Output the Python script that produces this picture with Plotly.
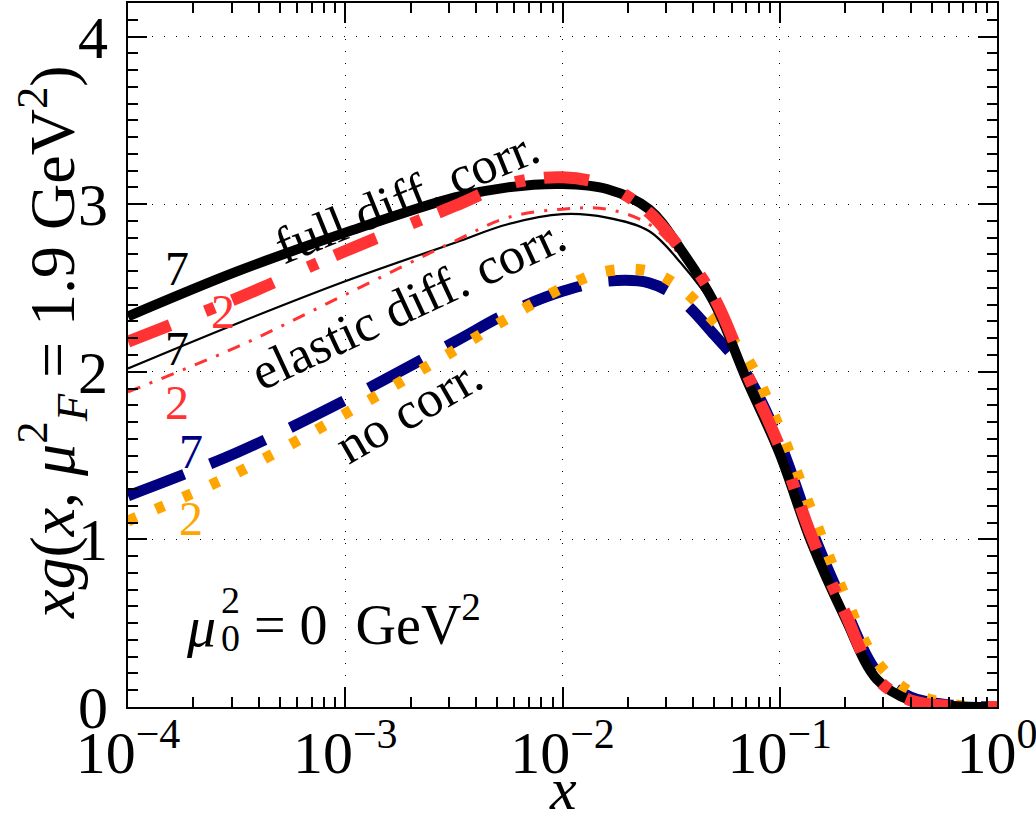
import plotly.graph_objects as go

# ---------------- data ----------------
x = [1e-4, 3.2e-4, 1e-3, 3.2e-3, 5.6e-3, 1e-2, 1.6e-2, 2.5e-2, 3.5e-2,
     5e-2, 7e-2, 0.1, 0.14, 0.2, 0.28, 0.4, 0.63, 1.0]

full_7 = [2.33, 2.60, 2.83, 3.04, 3.10, 3.12, 3.09, 2.97, 2.73,
          2.41, 1.96, 1.51, 0.98, 0.53, 0.165, 0.04, 0.006, 0.0]
full_2 = [2.18, 2.44, 2.72, 2.99, 3.12, 3.16, 3.11, 2.95, 2.73,
          2.44, 2.00, 1.55, 1.02, 0.56, 0.17, 0.04, 0.006, 0.0]
elastic_7 = [2.02, 2.29, 2.54, 2.77, 2.88, 2.94, 2.92, 2.84, 2.65,
             2.38, 1.95, 1.50, 0.98, 0.53, 0.165, 0.04, 0.006, 0.0]
elastic_2 = [1.88, 2.15, 2.46, 2.78, 2.92, 2.97, 2.97, 2.88, 2.69,
             2.42, 1.99, 1.53, 1.01, 0.55, 0.17, 0.04, 0.006, 0.0]
nocorr_7 = [1.26, 1.52, 1.83, 2.18, 2.35, 2.48, 2.54, 2.53, 2.43,
            2.22, 1.99, 1.58, 1.06, 0.59, 0.21, 0.06, 0.01, 0.0]
nocorr_2 = [1.11, 1.40, 1.75, 2.13, 2.32, 2.50, 2.60, 2.60, 2.50,
            2.30, 2.09, 1.66, 1.17, 0.66, 0.27, 0.09, 0.015, 0.0]

x_decades = [1e-4, 1e-3, 1e-2, 1e-1, 1e0]
x_ticktext = ["10<sup>−4</sup>", "10<sup>−3</sup>", "10<sup>−2</sup>",
              "10<sup>−1</sup>", "10<sup>0</sup>"]
minor_digits = [2, 3, 4, 5, 6, 7, 8, 9]
y_ticks = [0, 1, 2, 3, 4]

# ---------------- styles ----------------
FONT = "Liberation Serif"
BLACK = "#000000"
RED = "#ff3333"
BLUE = "#000080"
ORANGE = "#ffa500"

fig = go.Figure()


def add(y, color, width, dash):
    fig.add_trace(go.Scatter(
        x=x, y=y, mode="lines",
        line=dict(color=color, width=width, dash=dash, shape="spline", smoothing=1.0),
        showlegend=False, hoverinfo="skip"))


add(nocorr_7, BLUE, 11, "60px,28px")
add(nocorr_2, ORANGE, 11, "9px,21px")
add(elastic_7, BLACK, 2.2, "solid")
add(elastic_2, RED, 3, "13px,10px,3px,10px")
add(full_7, BLACK, 10, "solid")
add(full_2, RED, 12, "45px,38px,10px,19px")

minor_x = [d * m for d in x_decades[:-1] for m in minor_digits]

fig.update_xaxes(
    type="log", range=[-4, 0], automargin=False,
    tickmode="array", tickvals=x_decades, ticktext=x_ticktext,
    ticks="inside", ticklen=20, tickwidth=1.5, tickcolor=BLACK,
    minor=dict(tickmode="array", tickvals=minor_x, ticks="inside",
               ticklen=10, tickwidth=1.5, tickcolor=BLACK, showgrid=False),
    showline=True, linecolor=BLACK, linewidth=2, mirror="allticks",
    showgrid=True, gridcolor=BLACK, gridwidth=1, griddash="1px,11px",
    tickfont=dict(family=FONT, size=60, color=BLACK),
    ticklabelstandoff=-8, ticklabeloverflow="allow",
    zeroline=False,
)
fig.update_yaxes(
    range=[0, 4.2], automargin=False,
    tickmode="array", tickvals=y_ticks,
    ticks="inside", ticklen=19, tickwidth=1.5, tickcolor=BLACK,
    minor=dict(dtick=0.1, ticks="inside", ticklen=10, tickwidth=1.5,
               tickcolor=BLACK, showgrid=False),
    showline=True, linecolor=BLACK, linewidth=2, mirror="allticks",
    showgrid=True, gridcolor=BLACK, gridwidth=1, griddash="1px,11px",
    tickfont=dict(family=FONT, size=60, color=BLACK),
    ticklabelstandoff=6, ticklabeloverflow="allow",
    zeroline=False,
)

L, R, T, B = 128, 39, 3, 107
W, H = 1036, 814
pw, ph = W - L - R, H - T - B


def px2paper(px, py):
    return (px - L) / pw, (H - B - py) / ph


def ann(text, px, py, size, color=BLACK, angle=0, xanchor="center"):
    xp, yp = px2paper(px, py)
    fig.add_annotation(text=text, x=xp, y=yp, xref="paper", yref="paper",
                       showarrow=False, textangle=angle,
                       font=dict(family=FONT, size=size, color=color),
                       xanchor=xanchor, yanchor="middle")


ann("full diff. corr.", 406, 196, 52, angle=-22)
ann("elastic diff. corr.", 408, 303, 52, angle=-25)
ann("no corr.", 408, 410, 52, angle=-30)
ann("7", 177, 268, 48)
ann("2", 223, 311, 48, RED)
ann("7", 177, 348, 48)
ann("2", 177, 402, 48, RED)
ann("7", 191, 452, 48, BLUE)
ann("2", 191, 518, 48, ORANGE)
# mu_0^2 = 0 GeV^2 with stacked super/subscript
ann("<i>μ</i>", 201, 626, 58)
ann("2", 230, 600, 38)
ann("0", 230, 638, 38)
ann("= 0  GeV<sup>2</sup>", 252, 620, 56, xanchor="left")
ann("<i>xg</i>(<i>x</i>, <i>μ</i><sup>2</sup><sub><i>F</i></sub> = 1.9 GeV<sup>2</sup>)",
    52, 342, 64, angle=-90)
ann("<i>x</i>", 563, 789, 60)

fig.update_layout(
    width=W, height=H,
    margin=dict(l=L, r=R, t=T, b=B),
    plot_bgcolor="white", paper_bgcolor="white",
    showlegend=False,
)

fig.write_html("out.html", config={"displayModeBar": False},
               post_script="document.body.style.margin='0';document.body.style.padding='0';")
